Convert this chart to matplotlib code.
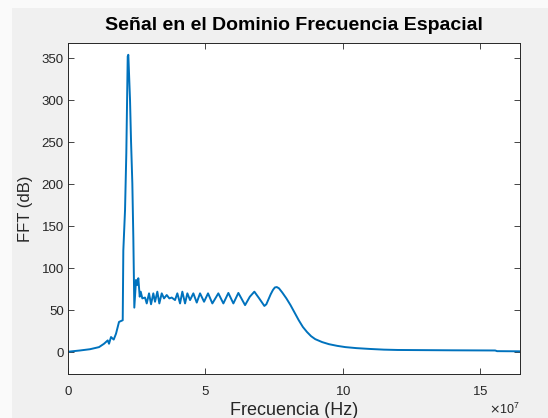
import numpy as np
import matplotlib.pyplot as plt
from matplotlib.patches import Rectangle

# frequency axis in units of 1e7 Hz, magnitude in dB
freq = [0, 0.146, 0.437, 0.801, 1.129, 1.311, 1.446, 1.493, 1.566, 1.664,
        1.748, 1.857, 1.992, 2.014, 2.076, 2.123, 2.174, 2.196, 2.258, 2.294,
        2.342, 2.378, 2.414, 2.476, 2.524, 2.560, 2.611, 2.647, 2.706, 2.804,
        2.866, 2.950, 3.023, 3.106, 3.168, 3.252, 3.325, 3.412, 3.496, 3.594,
        3.689, 3.776, 3.896, 3.980, 4.079, 4.162, 4.261, 4.345, 4.443, 4.563,
        4.687, 4.807, 4.953, 5.098, 5.255, 5.473, 5.656, 5.838, 6.020, 6.202,
        6.446, 6.620, 6.784, 6.960, 7.149, 7.22, 7.30, 7.38, 7.46, 7.53,
        7.60, 7.68, 7.80, 7.95, 8.10, 8.25, 8.40, 8.55, 8.70, 8.85,
        9.00, 9.25, 9.50, 9.80, 10.10, 10.50, 11.00, 11.50, 12.00, 13.00,
        14.00, 15.55, 15.62, 16.44]
fft_db = [0.5, 1, 2, 3.5, 6, 10, 14, 10, 18, 15,
          22, 36, 38, 121, 169, 237, 352, 354, 300, 252,
          201, 137, 53, 86, 80, 88, 66, 72, 64, 65,
          58, 70, 57, 70, 60, 72, 58, 70, 64, 68,
          64, 65, 62, 70, 58, 72, 58, 70, 62, 70,
          59, 70, 60, 70, 58, 70, 58, 70.5, 58, 70.5,
          56, 66, 72, 64, 55, 57, 63, 69, 74, 77,
          77.5, 76, 71, 64, 56, 47, 38, 30, 24, 19,
          15.5, 12, 9.5, 7.5, 6, 4.8, 3.8, 3, 2.6, 2.4,
          2.2, 2.0, 1.2, 1.0]

plt.rcParams['font.family'] = ['Liberation Sans', 'DejaVu Sans']

fig = plt.figure(figsize=(5.48, 4.18), dpi=100)
fig.patch.set_facecolor('#f0f0f0')
# light strips along the left and top edges
fig.patches.append(Rectangle((0, 0), 12 / 548, 1, transform=fig.transFigure,
                             facecolor='#fafafa', edgecolor='none', zorder=-1))
fig.patches.append(Rectangle((0, 1 - 8 / 418), 1, 8 / 418, transform=fig.transFigure,
                             facecolor='#fafafa', edgecolor='none', zorder=-1))

ax = fig.add_axes([68 / 548, 1 - 374 / 418, (519.6 - 68) / 548, (374 - 43) / 418])
ax.plot(np.array(freq) * 1e7, fft_db, color='#0072BD', lw=1.4)

ax.set_xlim(0, 16.44e7)
ax.set_ylim(-26, 368)
ax.set_xticks([0, 5e7, 10e7, 15e7])
ax.set_yticks(range(0, 351, 50))
ax.ticklabel_format(axis='x', style='sci', scilimits=(7, 7), useMathText=True)

ax.tick_params(direction='in', top=True, right=True, length=4, width=0.6,
               colors='#262626', labelsize=9.5, labelcolor='#262626')
ax.tick_params(axis='x', pad=8)
ax.tick_params(axis='y', pad=3)
for s in ax.spines.values():
    s.set_color('#262626')
    s.set_linewidth(0.7)

ax.set_title('Señal en el Dominio Frecuencia Espacial', fontsize=14,
             fontweight='bold', color='black', pad=9)
ax.set_xlabel('Frecuencia (Hz)', fontsize=13, color='#262626', labelpad=3)
ax.set_ylabel('FFT (dB)', fontsize=12, color='#262626', labelpad=6)
ax.xaxis.get_offset_text().set_fontsize(9)
ax.xaxis.get_offset_text().set_color('#262626')

fig.savefig('out.png', dpi=100, facecolor=fig.get_facecolor())
